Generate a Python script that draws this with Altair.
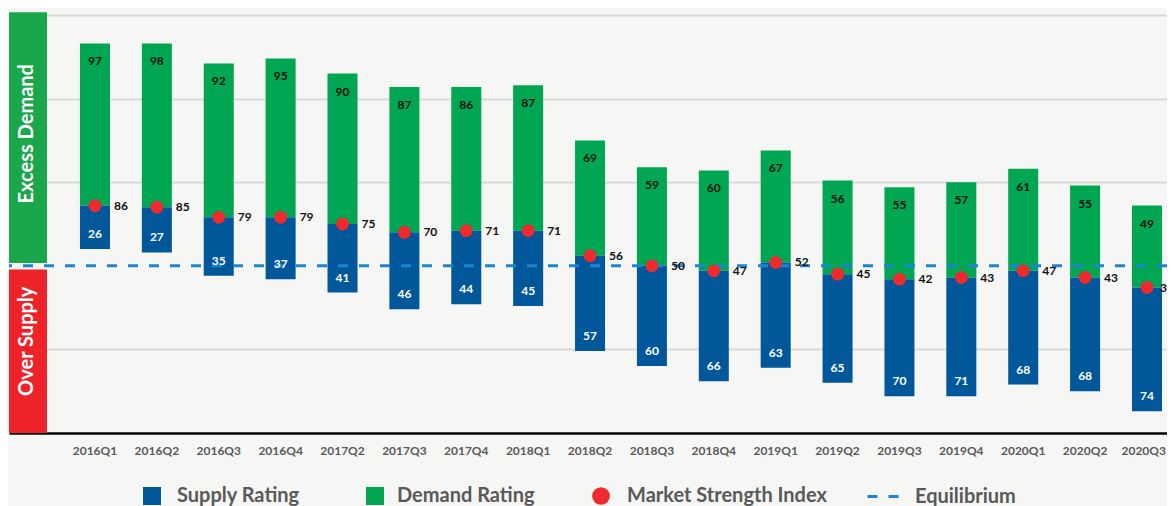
import altair as alt
import pandas as pd

# ---- data ----
quarters = ["2016Q1", "2016Q2", "2016Q3", "2016Q4", "2017Q2", "2017Q3", "2017Q4", "2018Q1",
            "2018Q2", "2018Q3", "2018Q4", "2019Q1", "2019Q2", "2019Q3", "2019Q4", "2020Q1",
            "2020Q2", "2020Q3"]
supply = [26, 27, 35, 37, 41, 46, 44, 45, 57, 60, 66, 63, 65, 70, 71, 68, 68, 74]
demand = [97, 98, 92, 95, 90, 87, 86, 87, 69, 59, 60, 67, 56, 55, 57, 61, 55, 49]
msi = [86, 85, 79, 79, 75, 70, 71, 71, 56, 50, 47, 52, 45, 42, 43, 47, 43, 37]
equilibrium = 50

zone_names = ["Excess Demand", "Over Supply"]
zone_low = [51.6, -50]
zone_high = [201.6, 47.8]

series_names = ["Supply Rating", "Demand Rating", "Market Strength Index", "Equilibrium"]

# ---- styling ----
BLUE = "#00579a"
GREEN = "#00a651"
RED = "#ee2a2e"
DASH = "#1a86d1"
ZONE_GREEN = "#1aa64a"
ZONE_RED = "#ee2229"
BG = "#f6f6f4"
FONT = "Lato"

df = pd.DataFrame({"quarter": quarters, "supply": supply, "demand": demand, "msi": msi})
df["supply_low"] = df["msi"] - df["supply"]
df["demand_high"] = df["msi"] + df["demand"]
df["supply_series"] = series_names[0]
df["demand_series"] = series_names[1]
df["msi_series"] = series_names[2]

eq = pd.DataFrame({"series": [series_names[3]], "value": [equilibrium]})

last_q = quarters[-1]
is_last = f"datum.value == '{last_q}'"

xscale = alt.Scale(domain=quarters, paddingInner=0.515, paddingOuter=0.614, align=0.934,
                   round=False)
yscale = alt.Scale(domain=[-50, 200], nice=False, zero=False)

x_axis = alt.Axis(title=None, labelAngle=0, labelFont=FONT, labelFontSize=12,
                  labelFontWeight="bold", labelColor="#595959", labelPadding=12,
                  labelAlign={"condition": {"test": is_last, "value": "right"}, "value": "center"},
                  labelOffset={"condition": {"test": is_last, "value": 19}, "value": 0},
                  ticks=False, domainColor="#000000", domainWidth=2.5, grid=False)
y_axis = alt.Axis(title=None, labels=False, ticks=False, domain=False, grid=True,
                  values=[0, 100, 150, 200], gridColor="#d9d9d9", gridWidth=2)


def X():
    return alt.X("quarter:N", sort=quarters, scale=xscale, axis=x_axis)


def Y(field):
    return alt.Y(field, scale=yscale, axis=y_axis)


def leg(x, offset, y=471, **kw):
    return alt.Legend(title=None, orient="none", legendX=x, legendY=y,
                      direction="horizontal", labelFont=FONT, labelFontSize=20,
                      labelFontWeight="bold", labelColor="#595959", labelLimit=400,
                      labelOffset=offset, **kw)


layers = []

# left zone panels
zone_colors = [ZONE_GREEN, ZONE_RED]
zone_shift = [4, 10]
for name, lo, hi, col, sh in zip(zone_names, zone_low, zone_high, zone_colors, zone_shift):
    zdf = pd.DataFrame({"zone": [name], "lo": [lo], "hi": [hi], "mid": [(lo + hi) / 2]})
    layers.append(alt.Chart(zdf).mark_rect(color=col).encode(
        x=alt.value(0), x2=alt.value(38), y=Y("lo:Q"), y2="hi:Q"))
    layers.append(alt.Chart(zdf).mark_text(
        angle=270, color="white", font=FONT, fontSize=20, fontWeight="bold",
        align="center", baseline="middle", dx=sh).encode(
        x=alt.value(18), y=Y("mid:Q"), text="zone:N"))

demand_bars = alt.Chart(df).mark_bar().encode(
    x=X(), y=Y("msi:Q"), y2="demand_high:Q",
    color=alt.Color("demand_series:N",
                    scale=alt.Scale(domain=[series_names[1]], range=[GREEN]),
                    legend=leg(356, 12, symbolType="square", symbolSize=324,
                               symbolStrokeWidth=0)))

supply_bars = alt.Chart(df).mark_bar().encode(
    x=X(), y=Y("supply_low:Q"), y2="msi:Q",
    fill=alt.Fill("supply_series:N",
                  scale=alt.Scale(domain=[series_names[0]], range=[BLUE]),
                  legend=leg(133, 15, symbolType="square", symbolSize=324,
                             symbolStrokeWidth=0)))

rule = alt.Chart(eq).mark_rule(color=DASH, strokeWidth=3).encode(
    y=Y("value:Q"),
    strokeDash=alt.StrokeDash("series:N",
                              scale=alt.Scale(domain=[series_names[3]], range=[[10, 11]]),
                              legend=leg(857, 14, y=464, symbolType="stroke",
                                         symbolSize=1024, symbolStrokeColor=DASH,
                                         symbolStrokeWidth=3)))

points = alt.Chart(df).mark_point(filled=True, color=RED, size=165, opacity=1).encode(
    x=X(), y=Y("msi:Q"),
    shape=alt.Shape("msi_series:N",
                    scale=alt.Scale(domain=[series_names[2]], range=["circle"]),
                    legend=leg(582, 16, symbolSize=314, symbolFillColor=RED,
                               symbolStrokeColor=RED, symbolStrokeWidth=0, symbolOpacity=1)))

demand_text = alt.Chart(df).mark_text(
    dy=18, font=FONT, fontSize=12, fontWeight="bold", color="#111111", baseline="middle").encode(
    x=X(), y=Y("demand_high:Q"), text="demand:Q")

supply_text = alt.Chart(df).mark_text(
    dy=-15, font=FONT, fontSize=12, fontWeight="bold", color="white", baseline="middle").encode(
    x=X(), y=Y("supply_low:Q"), text="supply:Q")

msi_text = alt.Chart(df).transform_filter(alt.datum.quarter != last_q).mark_text(
    dx=19, align="left", font=FONT, fontSize=12, fontWeight="bold", color="#111111",
    baseline="middle").encode(
    x=X(), y=Y("msi:Q"), text="msi:Q")

# the last index label sits at the right edge and is cut, as in the reference
msi_text_last = alt.Chart(df).transform_filter(alt.datum.quarter == last_q).mark_text(
    dx=13, align="left", font=FONT, fontSize=12, fontWeight="bold", color="#111111",
    baseline="middle", clip=True).encode(
    x=X(), y=Y("msi:Q"), text="msi:Q")

layers += [demand_bars, supply_bars, rule, points, demand_text, supply_text, msi_text,
           msi_text_last]

chart = alt.layer(*layers).resolve_legend(
    color="independent", fill="independent", shape="independent", strokeDash="independent"
).properties(
    width=1158, height=418,
    autosize=alt.AutoSizeParams(type="none"),
    padding={"left": 1, "top": 7, "right": 0, "bottom": 73},
    background=BG,
).configure_view(strokeWidth=0)

chart.save("out.html", embed_options={"renderer": "svg", "actions": False})
